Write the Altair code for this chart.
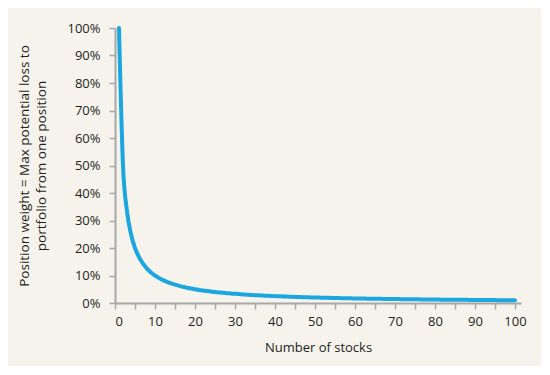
import altair as alt
import pandas as pd

stocks = list(range(1, 101))
weight_pct = [
    100, 50, 33.33, 25, 20, 16.67, 14.29, 12.5, 11.11, 10,
    9.09, 8.33, 7.69, 7.14, 6.67, 6.25, 5.88, 5.56, 5.26, 5,
    4.76, 4.55, 4.35, 4.17, 4, 3.85, 3.7, 3.57, 3.45, 3.33,
    3.23, 3.13, 3.03, 2.94, 2.86, 2.78, 2.7, 2.63, 2.56, 2.5,
    2.44, 2.38, 2.33, 2.27, 2.22, 2.17, 2.13, 2.08, 2.04, 2,
    1.96, 1.92, 1.89, 1.85, 1.82, 1.79, 1.75, 1.72, 1.69, 1.67,
    1.64, 1.61, 1.59, 1.56, 1.54, 1.52, 1.49, 1.47, 1.45, 1.43,
    1.41, 1.39, 1.37, 1.35, 1.33, 1.32, 1.3, 1.28, 1.27, 1.25,
    1.23, 1.22, 1.2, 1.19, 1.18, 1.16, 1.15, 1.14, 1.12, 1.11,
    1.1, 1.09, 1.08, 1.06, 1.05, 1.04, 1.03, 1.02, 1.01, 1,
]
x_ticks = list(range(0, 101, 5))
y_ticks = list(range(0, 101, 10))

df = pd.DataFrame({"n": stocks, "w": weight_pct})

FONT = "Open Sans"
AXIS_GREY = "#a8a8a8"
TEXT = "#231f20"

chart = (
    alt.Chart(df)
    .mark_line(color="#1ba6df", strokeWidth=4, interpolate="monotone", strokeCap="round")
    .encode(
        x=alt.X(
            "n:Q",
            scale=alt.Scale(domain=[0, 101.5], nice=False, zero=False),
            axis=alt.Axis(
                values=x_ticks,
                labelExpr="datum.value % 10 == 0 ? datum.value : ''",
                title="Number of stocks",
                titlePadding=13,
                labelPadding=6,
            ),
        ),
        y=alt.Y(
            "w:Q",
            scale=alt.Scale(domain=[0, 100], nice=False),
            axis=alt.Axis(
                values=y_ticks,
                labelExpr="datum.value + '%'",
                title=["Position weight = Max potential loss to", "portfolio from one position"],
                titlePadding=18,
                titleFontSize=13.5,
                titleLineHeight=17,
                labelPadding=9,
            ),
        ),
    )
    .properties(
        width=406,
        height=275,
        background="#f5f3ec",
        autosize=alt.AutoSizeParams(type="none"),
        padding={"left": 107, "top": 20, "right": 20, "bottom": 63},
    )
    .configure_view(stroke=None)
    .configure_axis(
        grid=False,
        domainColor=AXIS_GREY,
        domainWidth=2,
        tickColor=AXIS_GREY,
        tickWidth=1.5,
        tickSize=6,
        labelFont=FONT,
        labelFontSize=13,
        labelColor=TEXT,
        titleFont=FONT,
        titleFontSize=13,
        titleFontWeight="normal",
        titleColor=TEXT,
    )
)

chart.save("out.html", embed_options={"renderer": "svg", "actions": False})
